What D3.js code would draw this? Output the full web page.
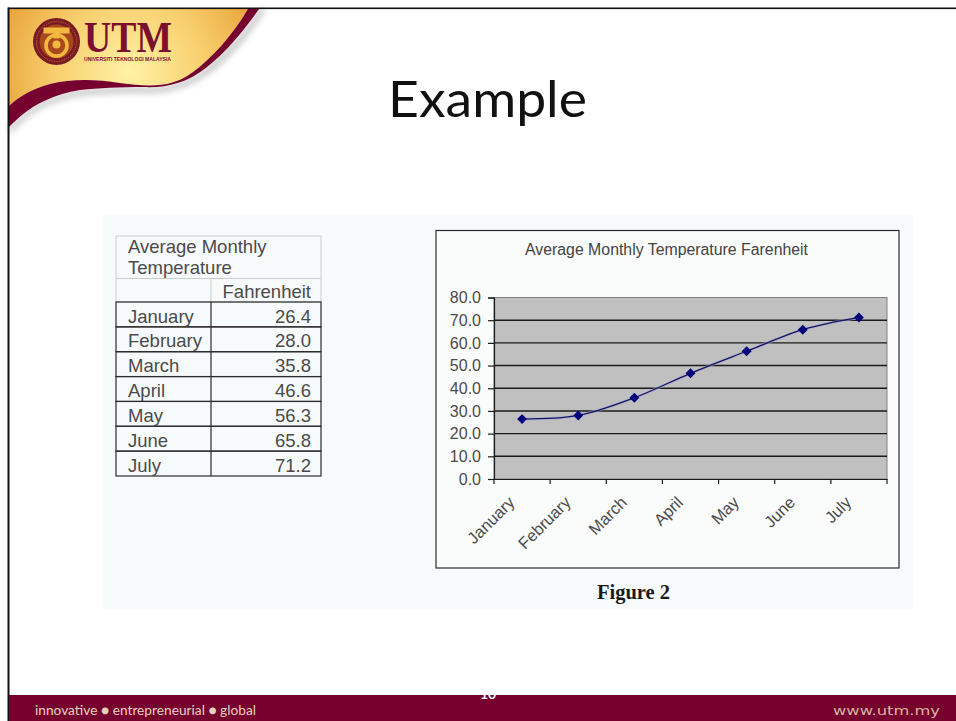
<!DOCTYPE html>
<html>
<head>
<meta charset="utf-8">
<title>Example</title>
<script src="https://cdn.jsdelivr.net/npm/d3@7"></script>
<style>
  html, body { margin: 0; padding: 0; background: #fff; }
  svg { display: block; }
  .sans { font-family: "Liberation Sans", Arial, sans-serif; }
  .serif { font-family: "Liberation Serif", "Times New Roman", serif; }
</style>
</head>
<body>
<div id="chart"></div>
<script>
var months = ["January", "February", "March", "April", "May", "June", "July"];
var fahrenheit = [26.4, 28.0, 35.8, 46.6, 56.3, 65.8, 71.2];
var yTicks = [0, 10, 20, 30, 40, 50, 60, 70, 80];
var tableTitle = ["Average Monthly", "Temperature"];
var tableUnit = "Fahrenheit";
var chartTitle = "Average Monthly Temperature Farenheit";

var W = 956, H = 721;
var maroon = "#76002e";

var svg = d3.select("#chart").append("svg")
    .attr("width", W)
    .attr("height", H);

var defs = svg.append("defs");

var gold = defs.append("radialGradient")
    .attr("id", "gold")
    .attr("gradientUnits", "userSpaceOnUse")
    .attr("cx", 130).attr("cy", 72).attr("r", 135);
gold.append("stop").attr("offset", "0%").attr("stop-color", "#fff2a6");
gold.append("stop").attr("offset", "55%").attr("stop-color", "#f8cf6e");
gold.append("stop").attr("offset", "100%").attr("stop-color", "#e9a53c");

defs.append("filter").attr("id", "soft")
    .attr("x", "-20%").attr("y", "-20%").attr("width", "140%").attr("height", "140%")
  .append("feGaussianBlur").attr("stdDeviation", 3);

defs.append("clipPath").attr("id", "barClip")
  .append("rect").attr("x", 9).attr("y", 695).attr("width", W - 9).attr("height", 26);

// slide banner
var goldPath = "M9,9 L248,9 C232,36 212,58 193,72 C172,88 150,87 120,83 C95,79 70,79 50,84 C32,89 18,97 9,106 Z";
var bandPath = "M9,106 C18,97 32,89 50,84 C70,79 95,79 120,83 C150,87 172,88 193,72 C212,58 232,36 248,9 L259,9 " +
    "C243,32 226,52 207,67 C186,84 165,88 143,87 C120,87 98,88 80,90 C55,94 35,104 22,115 C16,120 12,124 9,127 Z";
var shadowPath = "M9,127 C12,124 16,120 22,115 C35,104 55,94 80,90 C98,88 120,87 143,87 C165,88 186,84 207,67 " +
    "C226,52 243,32 259,9 L266,9 C248,38 230,58 210,73 C186,90 165,94 143,93 C120,93 98,94 80,96 C55,100 35,110 22,122 L9,134 Z";

svg.append("path").attr("d", shadowPath).attr("fill", "#9a9a9a").attr("opacity", 0.55).attr("filter", "url(#soft)");
svg.append("path").attr("d", goldPath).attr("fill", "url(#gold)");
svg.append("path").attr("d", bandPath).attr("fill", maroon);

// logo
var logo = svg.append("g").attr("transform", "translate(56.5,41.5)");
logo.append("circle").attr("r", 23.5).attr("fill", "#7a1a22");
logo.append("circle").attr("r", 20).attr("fill", "none").attr("stroke", "#c9782c").attr("stroke-width", 0.8).attr("stroke-dasharray", "1.5 1");
logo.append("circle").attr("r", 17).attr("fill", "#a8481e");
logo.append("path").attr("d", "M-13,-14 L13,-14 L13,-8 L3,-8 L3,-3 L-3,-3 L-3,-8 L-13,-8 Z").attr("fill", "#f2b840");
logo.append("circle").attr("cy", 4).attr("r", 10.5).attr("fill", "none").attr("stroke", "#f2b840").attr("stroke-width", 3.6);
logo.append("circle").attr("cy", 3).attr("r", 4).attr("fill", "#f2b840");

svg.append("text").attr("class", "serif")
    .attr("x", 84).attr("y", 52)
    .attr("textLength", 88).attr("lengthAdjust", "spacingAndGlyphs")
    .style("font-size", "45px").style("font-weight", "bold")
    .attr("fill", "#7a0f2e")
    .text("UTM");
svg.append("text").attr("class", "sans")
    .attr("x", 84).attr("y", 60.5)
    .attr("textLength", 87).attr("lengthAdjust", "spacingAndGlyphs")
    .style("font-size", "5.4px").style("font-weight", "bold")
    .attr("fill", "#7a0f2e")
    .text("UNIVERSITI TEKNOLOGI MALAYSIA");

// slide frame
svg.append("rect").attr("x", 8).attr("y", 7.5).attr("width", W - 8).attr("height", 1.6).attr("fill", "#111");
svg.append("rect").attr("x", 7.5).attr("y", 7.5).attr("width", 2).attr("height", H - 7.5).attr("fill", "#111");

svg.append("text")
    .attr("x", 388).attr("y", 117)
    .attr("textLength", 199).attr("lengthAdjust", "spacingAndGlyphs")
    .style("font-family", "Lato, sans-serif")
    .style("font-size", "51px")
    .attr("fill", "#111")
    .text("Example");

// picture panel
svg.append("rect").attr("x", 103).attr("y", 215).attr("width", 810).attr("height", 394).attr("fill", "#f7fafa");

// table
var tableX = {left: 116, mid: 211, right: 321};
var rowY = d3.scaleBand().domain(months).range([302, 476]);
var table = svg.append("g").attr("class", "sans");
var tableText = "#4a4a4a", paleLine = "#c9cdcd", darkLine = "#2b2b2b";

table.append("rect").attr("x", tableX.left).attr("y", 236)
    .attr("width", tableX.right - tableX.left).attr("height", 66)
    .attr("fill", "none").attr("stroke", paleLine);
table.append("line").attr("x1", tableX.left).attr("x2", tableX.right).attr("y1", 278.5).attr("y2", 278.5).attr("stroke", paleLine);
table.append("line").attr("x1", tableX.mid).attr("x2", tableX.mid).attr("y1", 278.5).attr("y2", 302).attr("stroke", paleLine);

table.selectAll(".title-line")
    .data(tableTitle)
  .enter().append("text")
    .attr("class", "title-line")
    .attr("x", 128)
    .attr("y", function(d, i) { return 253 + i * 21; })
    .attr("fill", tableText)
    .style("font-size", "18.5px")
    .text(function(d) { return d; });

table.append("text")
    .attr("x", 311).attr("y", 298)
    .attr("text-anchor", "end")
    .attr("fill", tableText)
    .style("font-size", "18.5px")
    .text(tableUnit);

var rows = table.selectAll(".row")
    .data(months)
  .enter().append("g")
    .attr("class", "row")
    .attr("transform", function(d) { return "translate(0," + rowY(d) + ")"; });

rows.append("rect")
    .attr("x", tableX.left)
    .attr("width", tableX.right - tableX.left)
    .attr("height", rowY.bandwidth())
    .attr("fill", "none")
    .attr("stroke", darkLine)
    .attr("stroke-width", 1.2);
rows.append("line")
    .attr("x1", tableX.mid).attr("x2", tableX.mid)
    .attr("y1", 0).attr("y2", rowY.bandwidth())
    .attr("stroke", darkLine)
    .attr("stroke-width", 1.2);
rows.append("text")
    .attr("x", 128).attr("y", 20.5)
    .attr("fill", tableText)
    .style("font-size", "18.5px")
    .text(function(d) { return d; });
rows.append("text")
    .attr("x", 311).attr("y", 20.5)
    .attr("text-anchor", "end")
    .attr("fill", tableText)
    .style("font-size", "18.5px")
    .text(function(d, i) { return d3.format(".1f")(fahrenheit[i]); });

// chart
svg.append("rect").attr("x", 436).attr("y", 230.5).attr("width", 463).attr("height", 337.5)
    .attr("fill", "#fafcfc").attr("stroke", "#2b2b2b").attr("stroke-width", 1.2);

svg.append("text").attr("class", "sans")
    .attr("x", 525).attr("y", 254.5)
    .attr("textLength", 283).attr("lengthAdjust", "spacingAndGlyphs")
    .attr("fill", "#444")
    .style("font-size", "15.6px")
    .text(chartTitle);

var margin = {top: 297.5, left: 494},
    width = 393,
    height = 181.5;

var x = d3.scaleBand().domain(months).range([0, width]);
var y = d3.scaleLinear().domain([0, 80]).range([height, 0]);

var g = svg.append("g")
    .attr("class", "sans")
    .attr("transform", "translate(" + margin.left + "," + margin.top + ")");

g.append("rect").attr("width", width).attr("height", height)
    .attr("fill", "#c0c0c0").attr("stroke", "#808080");

g.selectAll(".grid")
    .data(yTicks.slice(1, -1))
  .enter().append("line")
    .attr("class", "grid")
    .attr("x1", 0).attr("x2", width)
    .attr("y1", function(d) { return y(d); })
    .attr("y2", function(d) { return y(d); })
    .attr("stroke", "#1a1a1a")
    .attr("stroke-width", 1.4);

var yAxis = g.append("g")
    .call(d3.axisLeft(y).tickValues(yTicks).tickFormat(d3.format(".1f")).tickSize(6).tickPadding(7));
yAxis.selectAll("text").style("font-size", "16px").attr("fill", "#4a4a4a");
yAxis.selectAll("line, path").attr("stroke", "#1a1a1a").attr("stroke-width", 1.2);

var xAxis = g.append("g")
    .attr("transform", "translate(0," + height + ")")
    .call(d3.axisBottom(x).tickSize(0).tickPadding(9));
xAxis.select(".domain").attr("stroke", "#1a1a1a").attr("stroke-width", 1.2);
xAxis.selectAll("text")
    .style("font-size", "16.5px")
    .attr("fill", "#4a4a4a")
    .attr("text-anchor", "end")
    .attr("dy", "0.7em")
    .attr("transform", "translate(-21,10) rotate(-45)");

// x ticks sit on the band edges
xAxis.selectAll(".edge")
    .data(months.concat("end"))
  .enter().append("line")
    .attr("class", "edge")
    .attr("x1", function(d, i) { return i * x.step(); })
    .attr("x2", function(d, i) { return i * x.step(); })
    .attr("y1", 0).attr("y2", 5)
    .attr("stroke", "#1a1a1a")
    .attr("stroke-width", 1.2);

var cx = function(d, i) { return x(months[i]) + x.bandwidth() / 2; };
var line = d3.line().x(cx).y(function(d) { return y(d); }).curve(d3.curveCatmullRom.alpha(0.5));
var diamond = d3.symbol().type(d3.symbolDiamond2 || d3.symbolDiamond).size(62);

g.append("path").datum(fahrenheit)
    .attr("d", line).attr("fill", "none")
    .attr("stroke", "#a9a9d6").attr("stroke-width", 3).attr("opacity", 0.6);
g.append("path").datum(fahrenheit)
    .attr("d", line).attr("fill", "none")
    .attr("stroke", "#14145e").attr("stroke-width", 1.3);

g.selectAll(".dot")
    .data(fahrenheit)
  .enter().append("path")
    .attr("class", "dot")
    .attr("d", diamond)
    .attr("transform", function(d, i) { return "translate(" + cx(d, i) + "," + y(d) + ")"; })
    .attr("fill", "#00007a");

svg.append("text").attr("class", "serif")
    .attr("x", 633.5).attr("y", 599)
    .attr("text-anchor", "middle")
    .attr("fill", "#1a1a1a")
    .style("font-size", "20.5px").style("font-weight", "bold")
    .text("Figure 2");

// footer
svg.append("rect").attr("x", 9).attr("y", 695).attr("width", W - 9).attr("height", 26).attr("fill", maroon);
svg.append("text")
    .attr("x", 488).attr("y", 699)
    .attr("text-anchor", "middle")
    .attr("clip-path", "url(#barClip)")
    .attr("fill", "#fff")
    .style("font-family", "Lato, sans-serif")
    .style("font-size", "14px").style("font-weight", "bold")
    .text("10");
svg.append("text")
    .attr("x", 35).attr("y", 715)
    .attr("textLength", 221).attr("lengthAdjust", "spacingAndGlyphs")
    .attr("fill", "#e6d3bd")
    .style("font-family", "Lato, sans-serif")
    .style("font-size", "13.5px")
    .text("innovative ● entrepreneurial ● global");
svg.append("text")
    .attr("x", 833).attr("y", 715)
    .attr("textLength", 107).attr("lengthAdjust", "spacingAndGlyphs")
    .attr("fill", "#d9b5a0")
    .style("font-family", "DejaVu Sans, sans-serif")
    .style("font-size", "13px")
    .text("www.utm.my");
</script>
</body>
</html>
